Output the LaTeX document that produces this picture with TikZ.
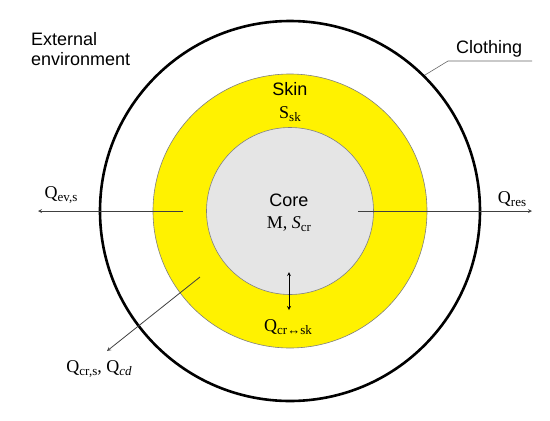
\documentclass[tikz,border=0pt]{standalone}
\usepackage{fontspec}
\setmainfont{Liberation Sans}
\newfontfamily\eqfont{Liberation Serif}
\usetikzlibrary{positioning}

\tikzset{
  txt/.style={font=\fontsize{18}{20}\selectfont, inner sep=1pt},
  eqn/.style={font=\eqfont\fontsize{18}{20}\selectfont, inner sep=1pt},
  flux/.style={draw=black!75, line width=0.8pt},
}
\newcommand{\sub}[1]{\raisebox{-0.35ex}{\fontsize{13}{14}\selectfont #1}}
\newcommand{\flx}[1]{Q\sub{#1}}

\begin{document}
\begin{tikzpicture}[x=1pt, y=-1pt, >=stealth]
    \useasboundingbox (0,0) rectangle (550,421);
    % Layers
    \coordinate (c) at (290,211);
    \draw[line width=2.6pt] (c) circle (190);
    \fill[yellow] (c) circle (137);
    \draw[gray, line width=0.6pt] (c) circle (137);
    \filldraw[fill=black!10, draw=gray, line width=0.6pt] (c) circle (83.5);
    % Layer labels
    \node[txt] (skin) at (290,89) {Skin};
    \node[eqn] (ssk) at (290,114) {S\sub{sk}};
    \node[txt] (core) at (289,200) {Core};
    \node[eqn] (mscr) at (289,224) {M, \textit{S}\sub{cr}};
    \node[txt, align=left, anchor=west] (ext) at (30,49) {External\\environment};
    \node[txt, anchor=west] (cloth) at (455,49) {Clothing};
    % Clothing leader
    \coordinate (cl1) at (425,75);
    \coordinate (cl2) at (448,61);
    \coordinate (cl3) at (532,61);
    \draw[black!60, line width=0.6pt] (cl1) -- (cl2) -- (cl3);
    % Heat flows
    \coordinate (evs0) at (183,211);
    \coordinate (evs1) at (38,211);
    \draw[flux, ->] (evs0) -- (evs1);
    \node[eqn] (qevs) at (61,195) {\flx{ev,s}};
    \coordinate (res0) at (358,211);
    \coordinate (res1) at (532,211);
    \draw[flux, ->] (res0) -- (res1);
    \node[eqn] (qres) at (512,199) {\flx{res}};
    \coordinate (crs0) at (200,277);
    \coordinate (crs1) at (107,351);
    \draw[flux, ->] (crs0) -- (crs1);
    \node[eqn] (qcrs) at (99,369) {\flx{cr,s}, \flx{\itshape cd}};
    \coordinate (sk0) at (289,272);
    \coordinate (sk1) at (289,310);
    \draw[flux, black, <->] (sk0) -- (sk1);
    \node[eqn] (qcrsk) at (288,327) {\flx{cr↔sk}};
\end{tikzpicture}
\end{document}
